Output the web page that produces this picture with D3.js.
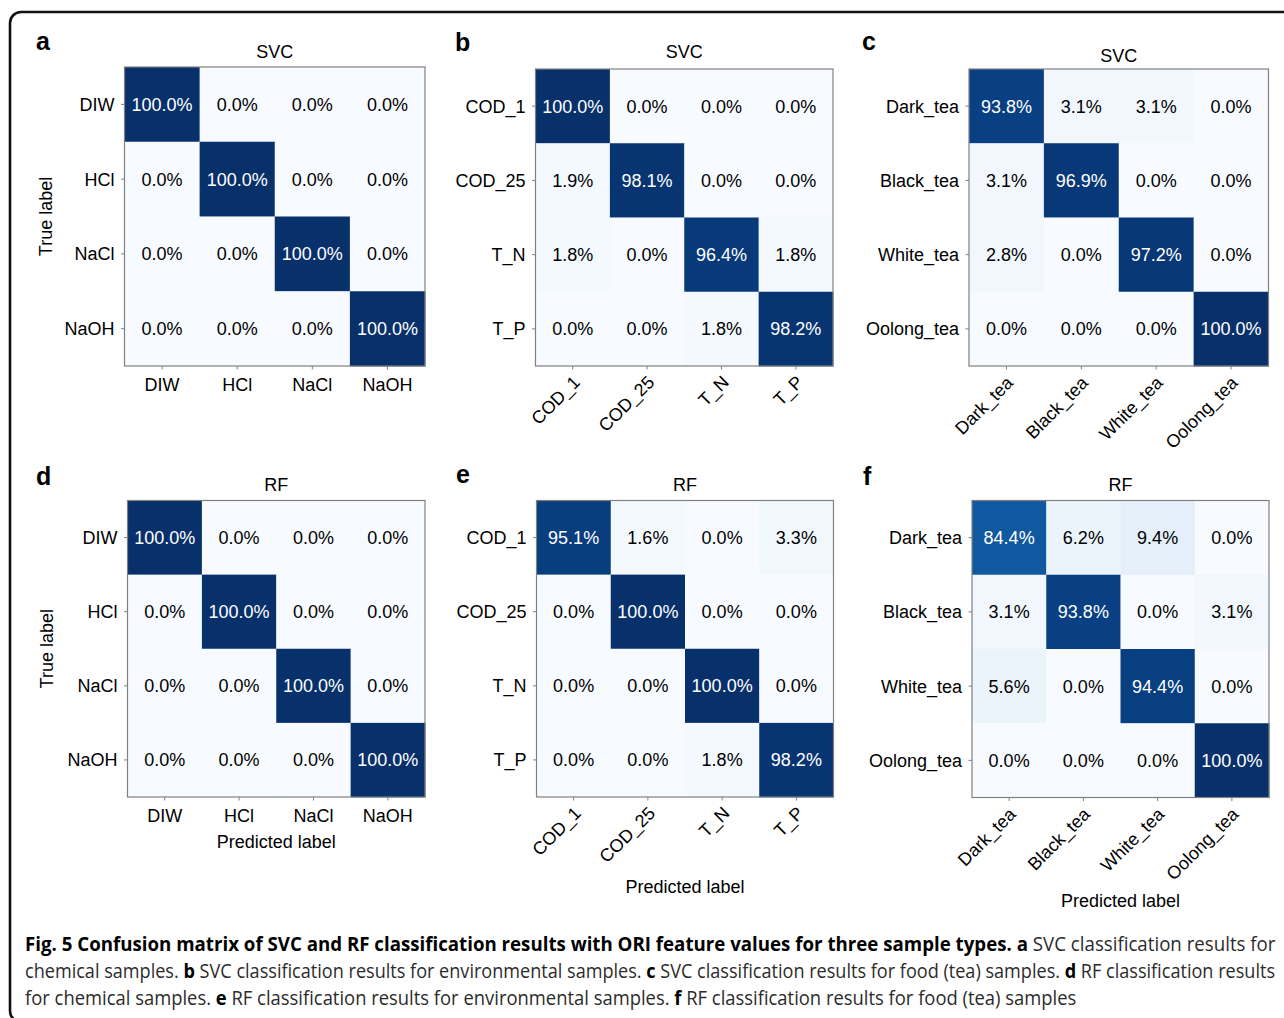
<!DOCTYPE html>
<html>
<head>
<meta charset="utf-8">
<script src="https://cdn.jsdelivr.net/npm/d3@7"></script>
<style>
  body { margin: 0; background: #fff; }
  svg { display: block; }
  .plot text { font-family: "Liberation Sans", Arial, Helvetica, sans-serif; }
  .caption text { font-family: "Open Sans", "Noto Sans", sans-serif; }
</style>
</head>
<body>
<svg id="fig" width="1284" height="1018"></svg>
<script>
// ---- categories ----
const chemicalLabels = ["DIW", "HCl", "NaCl", "NaOH"];
const environmentLabels = ["COD_1", "COD_25", "T_N", "T_P"];
const teaLabels = ["Dark_tea", "Black_tea", "White_tea", "Oolong_tea"];

// ---- confusion matrices (rows = true label, columns = predicted label), in % ----
const svcChemical = [
  [100.0, 0.0, 0.0, 0.0],
  [0.0, 100.0, 0.0, 0.0],
  [0.0, 0.0, 100.0, 0.0],
  [0.0, 0.0, 0.0, 100.0]
];
const svcEnvironment = [
  [100.0, 0.0, 0.0, 0.0],
  [1.9, 98.1, 0.0, 0.0],
  [1.8, 0.0, 96.4, 1.8],
  [0.0, 0.0, 1.8, 98.2]
];
const svcTea = [
  [93.8, 3.1, 3.1, 0.0],
  [3.1, 96.9, 0.0, 0.0],
  [2.8, 0.0, 97.2, 0.0],
  [0.0, 0.0, 0.0, 100.0]
];
const rfChemical = [
  [100.0, 0.0, 0.0, 0.0],
  [0.0, 100.0, 0.0, 0.0],
  [0.0, 0.0, 100.0, 0.0],
  [0.0, 0.0, 0.0, 100.0]
];
const rfEnvironment = [
  [95.1, 1.6, 0.0, 3.3],
  [0.0, 100.0, 0.0, 0.0],
  [0.0, 0.0, 100.0, 0.0],
  [0.0, 0.0, 1.8, 98.2]
];
const rfTea = [
  [84.4, 6.2, 9.4, 0.0],
  [3.1, 93.8, 0.0, 3.1],
  [5.6, 0.0, 94.4, 0.0],
  [0.0, 0.0, 0.0, 100.0]
];

// ---- panel texts ----
const panelLetters = ["a", "b", "c", "d", "e", "f"];
const panelTitles = ["SVC", "SVC", "SVC", "RF", "RF", "RF"];
const xAxisTitle = "Predicted label";
const yAxisTitle = "True label";

// ---- caption ----
const captionLines = [
  [["Fig. 5 Confusion matrix of SVC and RF classification results with ORI feature values for three sample types.", true],
   [" ", false], ["a", true], [" SVC classification results for", false]],
  [["chemical samples. ", false], ["b", true], [" SVC classification results for environmental samples. ", false],
   ["c", true], [" SVC classification results for food (tea) samples. ", false], ["d", true], [" RF classification results", false]],
  [["for chemical samples. ", false], ["e", true], [" RF classification results for environmental samples. ", false],
   ["f", true], [" RF classification results for food (tea) samples", false]]
];

// ---- layout ----
const panels = [
  { letter: 0, labels: chemicalLabels,    values: svcChemical,    box: [124.5, 425, 67, 366],    titleY: 58,    letterXY: [36, 50],  rotate: false, yTitleX: 51.5, xTitleY: null },
  { letter: 1, labels: environmentLabels, values: svcEnvironment, box: [535.5, 833, 69, 366],    titleY: 58,    letterXY: [455, 51], rotate: true,  yTitleX: null, xTitleY: null },
  { letter: 2, labels: teaLabels,         values: svcTea,         box: [969, 1268.5, 69, 366],   titleY: 62,    letterXY: [862, 50], rotate: true,  yTitleX: null, xTitleY: null },
  { letter: 3, labels: chemicalLabels,    values: rfChemical,     box: [127.5, 425, 500.5, 797], titleY: 490.5, letterXY: [36, 485], rotate: false, yTitleX: 53,   xTitleY: 848 },
  { letter: 4, labels: environmentLabels, values: rfEnvironment,  box: [536.5, 833.5, 500.5, 797], titleY: 490.5, letterXY: [456, 483], rotate: true, yTitleX: null, xTitleY: 893 },
  { letter: 5, labels: teaLabels,         values: rfTea,          box: [972, 1269, 500.5, 797.5], titleY: 490.5, letterXY: [863, 485], rotate: true, yTitleX: null, xTitleY: 906.5 }
];

const svg = d3.select("#fig");
const svgNode = svg.node();
const color = d3.scaleSequential(d3.interpolateBlues).domain([0, 100]);
const frameColor = "#808080";
const fontSize = 18;

// outer rounded frame around the figure
svg.append("rect")
  .attr("x", 10).attr("y", 12)
  .attr("width", 1320).attr("height", 1010)
  .attr("rx", 11)
  .attr("fill", "none").attr("stroke", "#111").attr("stroke-width", 2.6);

const plot = svg.append("g").attr("class", "plot");

function drawPanel(p) {
  const [x0, x1, y0, y1] = p.box;
  const g = plot.append("g");
  const x = d3.scaleBand().domain(p.labels).range([x0, x1]);
  const y = d3.scaleBand().domain(p.labels).range([y0, y1]);

  const cells = [];
  p.values.forEach((row, i) => row.forEach((v, j) => cells.push({ r: p.labels[i], c: p.labels[j], v })));

  g.selectAll("rect.cell").data(cells).join("rect")
    .attr("class", "cell")
    .attr("x", d => x(d.c)).attr("y", d => y(d.r))
    .attr("width", x.bandwidth() + 0.4).attr("height", y.bandwidth() + 0.4)
    .attr("fill", d => color(d.v));

  g.selectAll("text.val").data(cells).join("text")
    .attr("class", "val")
    .attr("x", d => x(d.c) + x.bandwidth() / 2)
    .attr("y", d => y(d.r) + y.bandwidth() / 2)
    .attr("dy", "0.36em")
    .attr("text-anchor", "middle")
    .attr("font-size", fontSize)
    .attr("fill", d => d.v > 50 ? "#ffffff" : "#000000")
    .text(d => d.v.toFixed(1) + "%");

  // frame
  g.append("rect")
    .attr("x", x0).attr("y", y0).attr("width", x1 - x0).attr("height", y1 - y0)
    .attr("fill", "none").attr("stroke", frameColor).attr("stroke-width", 1.2);

  // left axis
  const ax = g.append("g").attr("transform", `translate(${x0},0)`)
    .call(d3.axisLeft(y).tickSize(3.5).tickSizeOuter(0).tickPadding(6.5));
  ax.select(".domain").remove();
  ax.attr("font-family", null);
  ax.selectAll(".tick line").attr("stroke", frameColor);
  ax.selectAll(".tick text").attr("font-size", fontSize).attr("fill", "#000").attr("dy", "0.36em");

  // bottom axis
  const bx = g.append("g").attr("transform", `translate(0,${y1})`)
    .call(d3.axisBottom(x).tickSize(3.5).tickSizeOuter(0).tickPadding(8.5));
  bx.select(".domain").remove();
  bx.attr("font-family", null);
  bx.selectAll(".tick line").attr("stroke", frameColor);
  bx.selectAll(".tick text").attr("font-size", fontSize).attr("fill", "#000");

  if (p.rotate) {
    // 45° labels: right edge just past the tick, top just under the axis
    const svgRect = svgNode.getBoundingClientRect();
    bx.selectAll(".tick text").each(function (d) {
      const t = d3.select(this);
      t.attr("y", 0).attr("x", 0).attr("dy", null)
        .attr("text-anchor", "end")
        .attr("transform", "rotate(-45)");
      const r = this.getBoundingClientRect();
      const tickX = x(d) + x.bandwidth() / 2;
      const wantRight = tickX + 12, wantTop = y1 + 6;
      const curRight = r.right - svgRect.left, curTop = r.top - svgRect.top;
      t.attr("transform", `translate(${wantRight - curRight},${wantTop - curTop}) rotate(-45)`);
    });
  }

  // title
  g.append("text")
    .attr("x", (x0 + x1) / 2).attr("y", p.titleY)
    .attr("text-anchor", "middle").attr("font-size", fontSize)
    .text(panelTitles[p.letter]);

  // panel letter
  g.append("text")
    .attr("x", p.letterXY[0]).attr("y", p.letterXY[1])
    .attr("font-size", 25).attr("font-weight", "bold")
    .text(panelLetters[p.letter]);

  if (p.yTitleX !== null) {
    g.append("text")
      .attr("transform", `translate(${p.yTitleX},${(y0 + y1) / 2}) rotate(-90)`)
      .attr("text-anchor", "middle").attr("font-size", fontSize)
      .text(yAxisTitle);
  }
  if (p.xTitleY !== null) {
    g.append("text")
      .attr("x", (x0 + x1) / 2).attr("y", p.xTitleY)
      .attr("text-anchor", "middle").attr("font-size", fontSize)
      .text(xAxisTitle);
  }
}

panels.forEach(drawPanel);

// caption: three lines, the first two justified to the full text width
const cap = svg.append("g").attr("class", "caption");
const capLeft = 25;
const capRightFull = 1276;
const capBaselines = [951, 978, 1005];
const capWidths = [capRightFull - capLeft, capRightFull - capLeft, null];

const lineNodes = captionLines.map((segs) => {
  const t = cap.append("text")
    .attr("font-size", 19.5)
    .attr("fill", "#231f20")
    .attr("xml:space", "preserve");
  segs.forEach(([s, b]) => {
    t.append("tspan")
      .attr("font-weight", b ? 700 : 400)
      .attr("fill", b ? "#000" : "#2b2b2b")
      .text(s);
  });
  return t;
});

// natural scale from the last line (ends at ~1077)
const lastLen = lineNodes[2].node().getComputedTextLength();
const baseScale = (1077 - capLeft) / lastLen;
lineNodes.forEach((t, i) => {
  const len = t.node().getComputedTextLength();
  const s = capWidths[i] ? capWidths[i] / len : baseScale;
  t.attr("transform", `translate(${capLeft},${capBaselines[i]}) scale(${s},1)`);
});
</script>
</body>
</html>
